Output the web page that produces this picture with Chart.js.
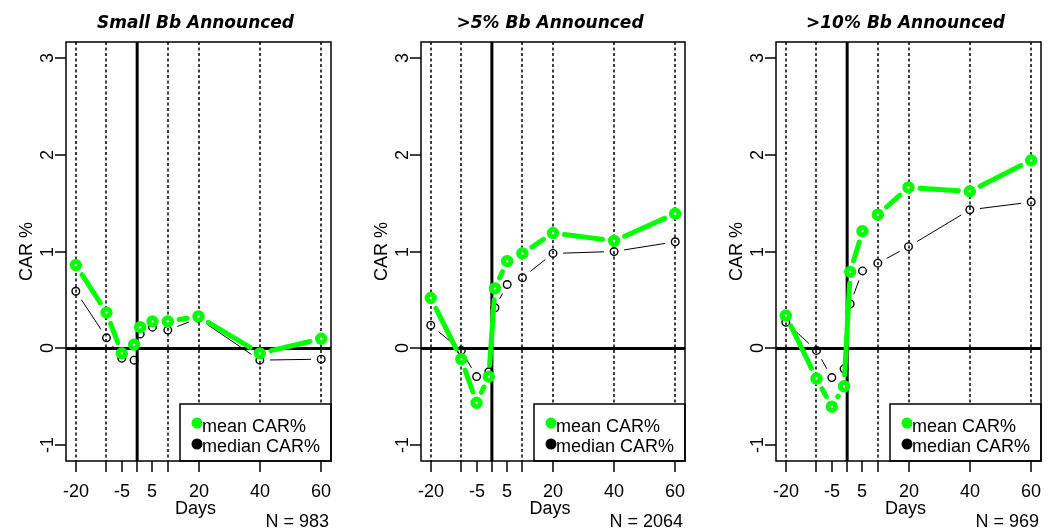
<!DOCTYPE html>
<html>
<head>
<meta charset="utf-8">
<script src="https://cdn.jsdelivr.net/npm/chart.js@4.4.1/dist/chart.umd.min.js"></script>
<style>
    body { margin: 0; background: #fff; }
    .row { display: flex; width: 1053px; height: 529px; }
    canvas { display: block; }
</style>
</head>
<body>
<div class="row">
    <canvas id="smallChart" width="351" height="529"></canvas>
    <canvas id="big5Chart" width="351" height="529"></canvas>
    <canvas id="big10Chart" width="351" height="529"></canvas>
</div>
<script>
// event days (relative to the buyback announcement)
const days = [-20, -10, -5, -1, 1, 5, 10, 20, 40, 60];

// cumulative abnormal returns, %
const smallMean   = [0.86, 0.37, -0.05, 0.04, 0.22, 0.28, 0.28, 0.33, -0.05, 0.10];
const smallMedian = [0.59, 0.11, -0.10, -0.12, 0.15, 0.22, 0.19, 0.31, -0.12, -0.11];
const big5Mean    = [0.52, -0.11, -0.56, -0.29, 0.62, 0.90, 0.98, 1.19, 1.11, 1.39];
const big5Median  = [0.24, -0.02, -0.29, -0.24, 0.42, 0.66, 0.73, 0.98, 1.00, 1.10];
const big10Mean   = [0.34, -0.31, -0.60, -0.39, 0.79, 1.21, 1.38, 1.66, 1.62, 1.94];
const big10Median = [0.27, -0.02, -0.30, -0.21, 0.46, 0.80, 0.88, 1.05, 1.43, 1.51];

const panelTitles = ['Small Bb Announced', '>5% Bb Announced', '>10% Bb Announced'];
const sampleSizes = ['N = 983', 'N = 2064', 'N = 969'];
const seriesNames = ['mean CAR%', 'median CAR%'];

// axes
const xTicks      = [-20, -10, -5, 0, 5, 10, 20, 40, 60];
const xTickLabels = ['-20', '', '-5', '', '5', '', '20', '40', '60'];
const yTicks      = [-1, 0, 1, 2, 3];
const guideDays   = [-20, -10, 10, 20, 40, 60];

const GREEN = '#00ff00';
const FONT = '18px "Liberation Sans", Arial, sans-serif';
const TITLE_FONT = 'italic bold 17px "DejaVu Sans", sans-serif';

function strokeLine(ctx, x1, y1, x2, y2) {
    ctx.beginPath();
    ctx.moveTo(x1, y1);
    ctx.lineTo(x2, y2);
    ctx.stroke();
}

// lines between points with a gap around each point (like R's type = "b")
function drawGappedLine(ctx, pts, gap, color, width) {
    ctx.save();
    ctx.strokeStyle = color;
    ctx.lineWidth = width;
    ctx.lineCap = 'round';
    for (let i = 1; i < pts.length; i++) {
        const a = pts[i - 1], b = pts[i];
        const dx = b.x - a.x, dy = b.y - a.y;
        const len = Math.hypot(dx, dy);
        if (len <= 2 * gap) continue;
        const ux = dx / len, uy = dy / len;
        strokeLine(ctx, a.x + ux * gap, a.y + uy * gap, b.x - ux * gap, b.y - uy * gap);
    }
    ctx.restore();
}

const rFrame = {
    id: 'rFrame',
    beforeDatasetsDraw(chart) {
        const { ctx, chartArea: a, scales: { x, y } } = chart;
        ctx.save();
        ctx.strokeStyle = '#000';
        ctx.lineWidth = 1.5;
        ctx.setLineDash([3, 2.5]);
        guideDays.forEach(d => {
            const px = Math.round(x.getPixelForValue(d));
            strokeLine(ctx, px, a.top, px, a.bottom);
        });
        ctx.setLineDash([]);
        ctx.lineWidth = 3;
        const x0 = x.getPixelForValue(0), y0 = y.getPixelForValue(0);
        strokeLine(ctx, x0, a.top, x0, a.bottom);
        strokeLine(ctx, a.left, y0, a.right, y0);
        ctx.restore();
    },
    beforeDatasetDraw(chart, args) {
        const ds = chart.data.datasets[args.index];
        const pts = args.meta.data.map(p => ({ x: p.x, y: p.y }));
        drawGappedLine(chart.ctx, pts, ds.linkGap, ds.linkColor, ds.linkWidth);
    },
    afterDatasetsDraw(chart) {
        const { ctx, chartArea: a } = chart;
        ctx.save();
        // legend, bottom right corner
        const lw = 151, top = 404;
        const left = a.right - lw;
        ctx.fillStyle = '#fff';
        ctx.fillRect(left, top, lw, a.bottom - top);
        ctx.strokeStyle = '#000';
        ctx.lineWidth = 1.5;
        ctx.strokeRect(left, top, lw, a.bottom - top);
        const colors = [GREEN, '#000'];
        ctx.font = FONT;
        ctx.textAlign = 'left';
        ctx.textBaseline = 'alphabetic';
        seriesNames.forEach((name, i) => {
            ctx.fillStyle = colors[i];
            ctx.beginPath();
            ctx.arc(left + 17, top + 19 + i * 21, 5.5, 0, Math.PI * 2);
            ctx.fill();
            ctx.fillStyle = '#000';
            ctx.fillText(name, left + 22, top + 27.5 + i * 20);
        });
        // plot box
        ctx.lineWidth = 1.5;
        ctx.strokeRect(a.left, a.top, a.right - a.left, a.bottom - a.top);
        ctx.restore();
    },
    afterDraw(chart, args, opts) {
        const { ctx, chartArea: a, scales: { x, y } } = chart;
        ctx.save();
        ctx.strokeStyle = '#000';
        ctx.fillStyle = '#000';
        ctx.lineWidth = 1.5;
        ctx.font = FONT;

        // x axis
        ctx.textAlign = 'center';
        ctx.textBaseline = 'alphabetic';
        xTicks.forEach((d, i) => {
            const px = Math.round(x.getPixelForValue(d));
            strokeLine(ctx, px, a.bottom, px, a.bottom + 11);
            if (xTickLabels[i]) ctx.fillText(xTickLabels[i], px, 497);
        });
        const cx = (a.left + a.right) / 2 - 3;
        ctx.fillText('Days', cx, 514);
        ctx.textAlign = 'right';
        ctx.fillText(opts.sampleSize, a.right - 2, 527);

        // y axis, labels parallel to the axis
        ctx.textAlign = 'center';
        yTicks.forEach(v => {
            const py = Math.round(y.getPixelForValue(v));
            strokeLine(ctx, a.left - 11, py, a.left, py);
            ctx.save();
            ctx.translate(a.left - 13, py);
            ctx.rotate(-Math.PI / 2);
            ctx.fillText(String(v), 0, 0);
            ctx.restore();
        });
        ctx.save();
        ctx.translate(a.left - 34, (a.top + a.bottom) / 2);
        ctx.rotate(-Math.PI / 2);
        ctx.fillText('CAR %', 0, 0);
        ctx.restore();

        // title
        ctx.font = TITLE_FONT;
        ctx.textAlign = 'center';
        ctx.fillText(opts.title, cx, 28);
        ctx.restore();
    }
};

function initializePanel(id, mean, median, title, sampleSize, boxLeft, boxRight) {
    const ctx = document.getElementById(id).getContext('2d');
    new Chart(ctx, {
        type: 'line',
        data: {
            labels: days,
            datasets: [{
                label: seriesNames[0],
                data: days.map((d, i) => ({ x: d, y: mean[i] })),
                showLine: false,
                pointRadius: 3.7,
                pointBorderWidth: 5,
                pointBorderColor: GREEN,
                pointBackgroundColor: '#fff',
                linkColor: GREEN,
                linkWidth: 5,
                linkGap: 11.5,
                clip: false
            }, {
                label: seriesNames[1],
                data: days.map((d, i) => ({ x: d, y: median[i] })),
                showLine: false,
                pointRadius: 3.8,
                pointBorderWidth: 1.4,
                pointBorderColor: '#000',
                pointBackgroundColor: 'rgba(0,0,0,0)',
                linkColor: '#000',
                linkWidth: 1,
                linkGap: 10.5,
                clip: false
            }]
        },
        options: {
            responsive: false,
            devicePixelRatio: 1,
            animation: false,
            events: [],
            layout: {
                padding: { left: boxLeft, right: 351 - boxRight, top: 42, bottom: 68 }
            },
            scales: {
                x: { type: 'linear', min: -23.2, max: 63.2, display: false },
                y: { type: 'linear', min: -1.16, max: 3.16, display: false }
            },
            plugins: {
                legend: { display: false },
                tooltip: { enabled: false },
                rFrame: { title: title, sampleSize: sampleSize }
            }
        },
        plugins: [rFrame]
    });
}

document.addEventListener('DOMContentLoaded', () => {
    initializePanel('smallChart', smallMean, smallMedian, panelTitles[0], sampleSizes[0], 66, 331);
    initializePanel('big5Chart', big5Mean, big5Median, panelTitles[1], sampleSizes[1], 70, 334);
    initializePanel('big10Chart', big10Mean, big10Median, panelTitles[2], sampleSizes[2], 74, 339);
});
</script>
</body>
</html>
